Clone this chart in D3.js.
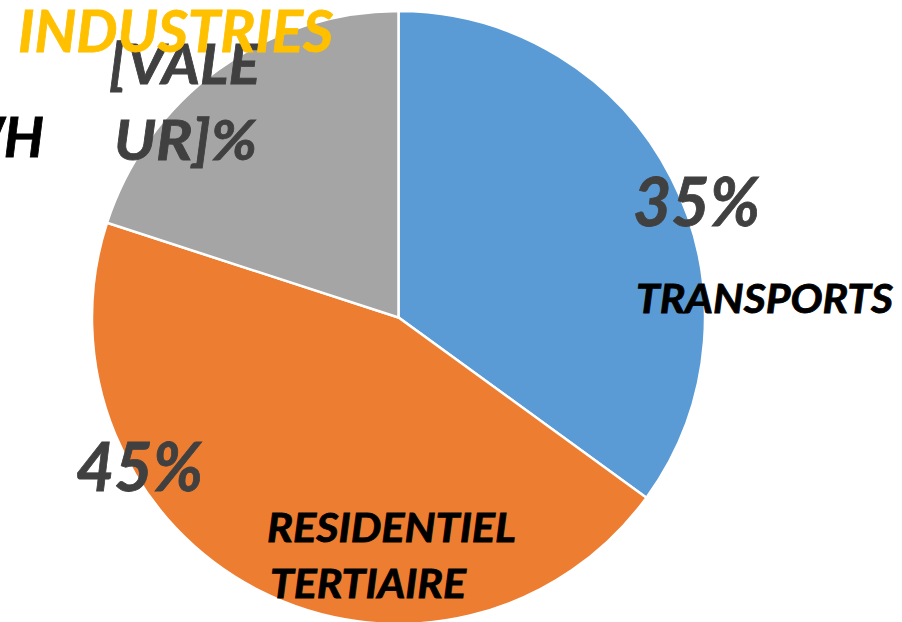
<!DOCTYPE html>
<html>
<head>
<meta charset="utf-8">
<script src="https://cdn.jsdelivr.net/npm/d3@7"></script>
<style>
  body { margin: 0; background: #fff; overflow: hidden; }
  text { font-family: Lato, "Open Sans", sans-serif; font-weight: bold; font-style: italic; }
</style>
</head>
<body>
<svg id="chart"></svg>
<script>
// data
var categories = ["TRANSPORTS", "RESIDENTIEL TERTIAIRE", "INDUSTRIES"];
var values = [35, 45, 20];
var colors = ["#5B9BD5", "#ED7D31", "#A5A5A5"];
var valueLabels = [["35%"], ["45%"], ["[VALE", "UR]%"]];
var nameLabels = [["TRANSPORTS"], ["RESIDENTIEL", "TERTIAIRE"], ["INDUSTRIES"]];
var unitLabel = "TWH";

// dimensions
var width = 902, height = 622;
var cx = 398.5, cy = 317.5, radius = 306.5;

var svg = d3.select("#chart")
    .attr("width", width)
    .attr("height", height);

var g = svg.append("g")
    .attr("transform", "translate(" + cx + "," + cy + ")");

var pie = d3.pie().sort(null).value(function(d) { return d; });
var arc = d3.arc().innerRadius(0).outerRadius(radius);

g.selectAll("path.slice")
    .data(pie(values))
    .enter().append("path")
    .attr("class", "slice")
    .attr("d", arc)
    .attr("fill", function(d, i) { return colors[i]; })
    .attr("stroke", "#fff")
    .attr("stroke-width", 2.5);

// label placement (manually moved labels, as in the original)
// x, first baseline, line step, font size, width per line, extra x per line
var valuePos = [
  { x: 633, y: 226, dy: 0, size: 67, w: [127], off: [0] },
  { x: 76, y: 491, dy: 0, size: 67, w: [127], off: [0] },
  { x: 109, y: 84, dy: 76, size: 56, w: [151, 143], off: [0, 5] }
];
var namePos = [
  { x: 636, y: 313, dy: 0, size: 40, w: [257], off: [0] },
  { x: 267, y: 542, dy: 56, size: 40, w: [249, 196], off: [0, 3] },
  { x: 18, y: 52, dy: 0, size: 57, w: [315], off: [0] }
];
var nameColors = ["#000", "#000", "#FFC000"];

function addLines(lines, p, fill) {
  lines.forEach(function(line, j) {
    svg.append("text")
      .attr("x", p.x + p.off[j])
      .attr("y", p.y + j * p.dy)
      .attr("font-size", p.size)
      .attr("fill", fill)
      .attr("stroke", fill)
      .attr("stroke-width", 0.8)
      .attr("textLength", p.w[j])
      .attr("lengthAdjust", "spacingAndGlyphs")
      .text(line);
  });
}

// unit label partly outside the frame
svg.append("text")
  .attr("x", 44)
  .attr("y", 157)
  .attr("text-anchor", "end")
  .attr("font-size", 56)
  .attr("fill", "#000")
  .attr("stroke", "#000")
  .attr("stroke-width", 0.8)
  .text(unitLabel);

values.forEach(function(v, i) {
  addLines(valueLabels[i], valuePos[i], "#404040");
});
values.forEach(function(v, i) {
  addLines(nameLabels[i], namePos[i], nameColors[i]);
});
</script>
</body>
</html>
